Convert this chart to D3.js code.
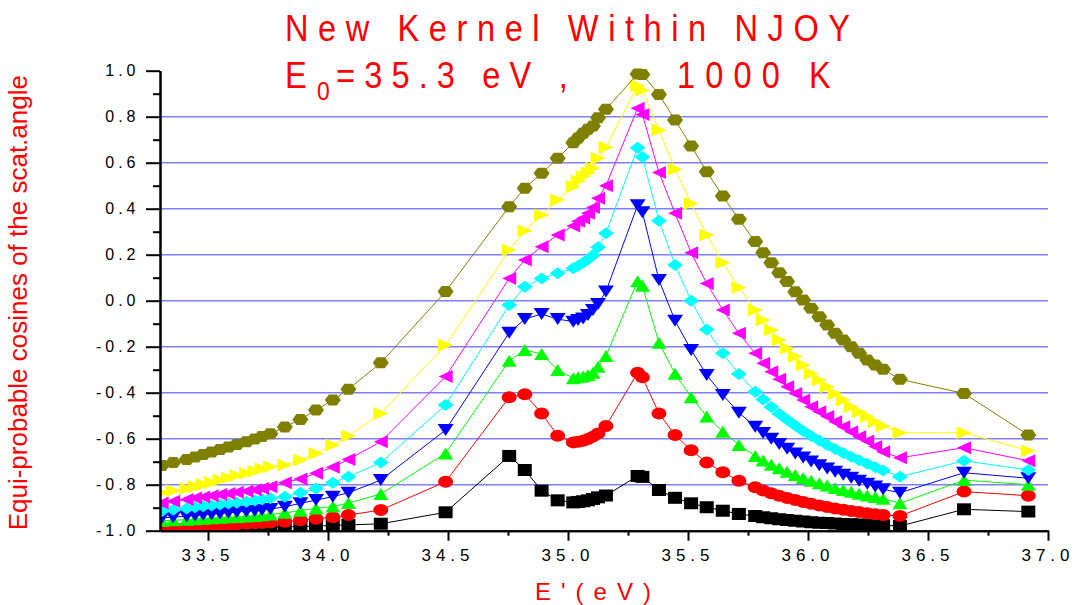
<!DOCTYPE html>
<html>
<meta charset="utf-8"/>
<head>
  <title>New Kernel Within NJOY</title>
  <style>
    body { margin: 0; background: #fff; }
    text { font-family: "Liberation Sans", Arial, sans-serif; }
    .grid line { stroke: #8080ff; stroke-width: 1.6; }
    .axis path, .axis line { stroke: #000; stroke-width: 2; }
  </style>
</head>
<body>
<svg width="1078" height="605"></svg>
<script src="https://d3js.org/d3.v7.min.js"></script>
<script>
// E' grid (eV), shared by all the cosine boundaries
var ePrime = [33.307, 33.355, 33.411, 33.446, 33.48, 33.515, 33.55, 33.585, 33.62, 33.66, 33.695, 33.725, 33.76,
  33.82, 33.885, 33.95, 34.02, 34.085, 34.22, 34.49,
  34.755, 34.82, 34.89, 34.957, 35.022, 35.042, 35.063, 35.083, 35.104, 35.125, 35.158,
  35.29, 35.31,
  35.379, 35.446, 35.513, 35.578, 35.645, 35.712,
  35.78, 35.813, 35.847, 35.88, 35.913, 35.947, 35.98, 36.013, 36.047, 36.08, 36.113, 36.147, 36.18, 36.213, 36.247, 36.28, 36.313,
  36.383, 36.65, 36.918];

// equi-probable cosines, one list per boundary (bottom to top)
var mu1 = [-0.997, -0.996, -0.995, -0.994, -0.993, -0.992, -0.991, -0.99, -0.989, -0.988, -0.987, -0.986, -0.985,
  -0.983, -0.982, -0.98, -0.977, -0.975, -0.97, -0.92,
  -0.675, -0.736, -0.826, -0.868, -0.877, -0.875, -0.872, -0.868, -0.862, -0.855, -0.847,
  -0.762, -0.766,
  -0.823, -0.857, -0.881, -0.898, -0.913, -0.927,
  -0.936, -0.941, -0.946, -0.95, -0.954, -0.957, -0.96, -0.963, -0.965, -0.967, -0.969, -0.971, -0.972, -0.973, -0.974, -0.975, -0.976,
  -0.98, -0.907, -0.917];
var mu2 = [-0.99, -0.987, -0.984, -0.982, -0.98, -0.978, -0.976, -0.974, -0.972, -0.97, -0.968, -0.966, -0.964,
  -0.961, -0.955, -0.948, -0.942, -0.932, -0.91, -0.787,
  -0.42, -0.407, -0.49, -0.587, -0.616, -0.613, -0.609, -0.601, -0.591, -0.577, -0.545,
  -0.313, -0.333,
  -0.49, -0.584, -0.65, -0.704, -0.746, -0.783,
  -0.811, -0.825, -0.837, -0.848, -0.858, -0.867, -0.875, -0.883, -0.89, -0.897, -0.903, -0.909, -0.914, -0.919, -0.924, -0.928, -0.932,
  -0.936, -0.83, -0.848];
var mu3 = [-0.957, -0.955, -0.952, -0.95, -0.948, -0.946, -0.944, -0.942, -0.94, -0.938, -0.936, -0.933, -0.93,
  -0.922, -0.913, -0.903, -0.895, -0.88, -0.84, -0.664,
  -0.261, -0.214, -0.232, -0.301, -0.337, -0.333, -0.33, -0.324, -0.313, -0.287, -0.24,
  0.085, 0.065,
  -0.183, -0.318, -0.42, -0.503, -0.57, -0.627,
  -0.675, -0.695, -0.713, -0.729, -0.744, -0.758, -0.771, -0.783, -0.794, -0.804, -0.814, -0.823, -0.831, -0.839, -0.847, -0.854, -0.861,
  -0.881, -0.78, -0.8];
var mu4 = [-0.945, -0.941, -0.937, -0.934, -0.931, -0.928, -0.925, -0.922, -0.919, -0.916, -0.913, -0.91, -0.906,
  -0.896, -0.881, -0.867, -0.852, -0.835, -0.78, -0.562,
  -0.139, -0.08, -0.058, -0.08, -0.091, -0.084, -0.077, -0.062, -0.04, -0.014, 0.04,
  0.415, 0.385,
  0.09, -0.087, -0.214, -0.323, -0.41, -0.487,
  -0.548, -0.575, -0.6, -0.623, -0.644, -0.664, -0.682, -0.699, -0.715, -0.73, -0.744, -0.757, -0.77, -0.783, -0.796, -0.808, -0.82,
  -0.835, -0.748, -0.772];
var mu5 = [-0.915, -0.909, -0.903, -0.898, -0.894, -0.89, -0.886, -0.882, -0.878, -0.874, -0.869, -0.864, -0.859,
  -0.852, -0.835, -0.816, -0.791, -0.765, -0.704, -0.453,
  -0.019, 0.061, 0.097, 0.119, 0.141, 0.152, 0.165, 0.18, 0.198, 0.232, 0.293,
  0.665, 0.625,
  0.348, 0.155, 0.0, -0.125, -0.229, -0.319,
  -0.396, -0.43, -0.462, -0.491, -0.518, -0.543, -0.566, -0.588, -0.608, -0.627, -0.645, -0.662, -0.678, -0.694, -0.709, -0.724, -0.738,
  -0.765, -0.696, -0.736];
var mu6 = [-0.88, -0.872, -0.864, -0.858, -0.853, -0.848, -0.843, -0.838, -0.833, -0.828, -0.822, -0.816, -0.809,
  -0.791, -0.775, -0.75, -0.724, -0.69, -0.613, -0.33,
  0.097, 0.177, 0.235, 0.286, 0.325, 0.345, 0.36, 0.38, 0.405, 0.445, 0.5,
  0.837, 0.81,
  0.557, 0.38, 0.209, 0.075, -0.04, -0.142,
  -0.229, -0.272, -0.309, -0.342, -0.374, -0.403, -0.432, -0.461, -0.483, -0.504, -0.526, -0.548, -0.57, -0.591, -0.61, -0.634, -0.657,
  -0.683, -0.639, -0.696];
var mu7 = [-0.835, -0.826, -0.816, -0.808, -0.799, -0.79, -0.78, -0.77, -0.76, -0.75, -0.741, -0.731, -0.722,
  -0.714, -0.693, -0.664, -0.627, -0.588, -0.49, -0.193,
  0.22, 0.304, 0.373, 0.438, 0.496, 0.52, 0.54, 0.556, 0.576, 0.619, 0.667,
  0.935, 0.915,
  0.742, 0.571, 0.423, 0.286, 0.165, 0.057,
  -0.04, -0.084, -0.127, -0.171, -0.207, -0.243, -0.28, -0.316, -0.345, -0.374, -0.403, -0.432, -0.461, -0.483, -0.504, -0.526, -0.545,
  -0.574, -0.574, -0.652];
var mu8 = [-0.717, -0.703, -0.69, -0.68, -0.669, -0.658, -0.647, -0.636, -0.625, -0.613, -0.601, -0.59, -0.579,
  -0.549, -0.516, -0.475, -0.432, -0.385, -0.27, 0.04,
  0.409, 0.489, 0.554, 0.619, 0.687, 0.707, 0.728, 0.745, 0.76, 0.795, 0.832,
  0.986, 0.984,
  0.897, 0.786, 0.673, 0.561, 0.455, 0.354,
  0.257, 0.209, 0.165, 0.122, 0.083, 0.039, 0.003, -0.033, -0.07, -0.106, -0.142, -0.171, -0.2, -0.229, -0.258, -0.28, -0.298,
  -0.342, -0.403, -0.584];

var seriesValues = [mu1, mu2, mu3, mu4, mu5, mu6, mu7, mu8];
var seriesColors = ["#000000", "#ff0000", "#00ff00", "#0000ff", "#00ffff", "#ff00ff", "#ffff00", "#808000"];
var seriesShapes = ["square", "circle", "triangleUp", "triangleDown", "diamond", "triangleLeft", "triangleRight", "hexagon"];

var xMajor = [33.5, 34.0, 34.5, 35.0, 35.5, 36.0, 36.5, 37.0];
var xMajorLabels = ["33.5", "34.0", "34.5", "35.0", "35.5", "36.0", "36.5", "37.0"];
var xMinor = [33.75, 34.25, 34.75, 35.25, 35.75, 36.25, 36.75];
var yMajor = [-1.0, -0.8, -0.6, -0.4, -0.2, 0.0, 0.2, 0.4, 0.6, 0.8, 1.0];
var yMajorLabels = ["-1.0", "-0.8", "-0.6", "-0.4", "-0.2", "0.0", "0.2", "0.4", "0.6", "0.8", "1.0"];
var yMinor = [-0.9, -0.7, -0.5, -0.3, -0.1, 0.1, 0.3, 0.5, 0.7, 0.9];
var yGrid = [-0.8, -0.6, -0.4, -0.2, 0.0, 0.2, 0.4, 0.6, 0.8];

var svg = d3.select("svg");
var plotLeft = 160, plotRight = 1048, plotTop = 70.7, plotBottom = 530.7;

var x = d3.scaleLinear().domain([33.3, 37.0]).range([plotLeft, plotRight]);
var y = d3.scaleLinear().domain([-1, 1]).range([plotBottom, plotTop]);

// marker outlines, centred on their bounding box
function markerPath(shape) {
  var w, h;
  switch (shape) {
    case "square": w = 14; h = 12;
      return "M" + (-w/2) + "," + (-h/2) + "h" + w + "v" + h + "h" + (-w) + "Z";
    case "circle":
      return "M-7.5,0a7.5,6 0 1,0 15,0a7.5,6 0 1,0 -15,0Z";
    case "triangleUp": w = 15; h = 12;
      return "M0," + (-h/2) + "L" + (w/2) + "," + (h/2) + "L" + (-w/2) + "," + (h/2) + "Z";
    case "triangleDown": w = 16; h = 12;
      return "M" + (-w/2) + "," + (-h/2) + "L" + (w/2) + "," + (-h/2) + "L0," + (h/2) + "Z";
    case "diamond": w = 16; h = 12;
      return "M0," + (-h/2) + "L" + (w/2) + ",0L0," + (h/2) + "L" + (-w/2) + ",0Z";
    case "triangleLeft": w = 14; h = 13;
      return "M" + (-w/2) + ",0L" + (w/2) + "," + (-h/2) + "L" + (w/2) + "," + (h/2) + "Z";
    case "triangleRight": w = 15; h = 13;
      return "M" + (w/2) + ",0L" + (-w/2) + "," + (-h/2) + "L" + (-w/2) + "," + (h/2) + "Z";
    case "hexagon": w = 16; h = 11;
      return "M" + (-w/2) + ",0L" + (-w/4) + "," + (-h/2) + "L" + (w/4) + "," + (-h/2) + "L" + (w/2) + ",0L" + (w/4) + "," + (h/2) + "L" + (-w/4) + "," + (h/2) + "Z";
  }
}

// grid
svg.append("g").attr("class", "grid")
  .selectAll("line").data(yGrid).enter().append("line")
  .attr("x1", plotLeft).attr("x2", plotRight)
  .attr("y1", d => y(d)).attr("y2", d => y(d));

svg.append("defs").append("clipPath").attr("id", "plotClip")
  .append("rect").attr("x", plotLeft).attr("y", 0).attr("width", plotRight - plotLeft).attr("height", plotBottom);

var plot = svg.append("g").attr("clip-path", "url(#plotClip)");

var line = d3.line().x((d, i) => x(ePrime[i])).y(d => y(d));

seriesValues.forEach(function(vals, s) {
  var g = plot.append("g");
  g.append("path")
    .attr("d", line(vals))
    .attr("fill", "none")
    .attr("stroke", seriesColors[s])
    .attr("stroke-width", 1);
  g.selectAll("path.m").data(vals).enter().append("path")
    .attr("class", "m")
    .attr("d", markerPath(seriesShapes[s]))
    .attr("fill", seriesColors[s])
    .attr("transform", (d, i) => "translate(" + x(ePrime[i]) + "," + y(d) + ")");
});

// axes
svg.append("g").attr("class", "axis")
  .attr("transform", "translate(" + plotLeft + ",0)")
  .call(d3.axisLeft(y).tickValues(yMajor).tickSize(14).tickSizeOuter(0).tickFormat(""));
svg.append("g").attr("class", "axis")
  .attr("transform", "translate(" + plotLeft + ",0)")
  .call(d3.axisLeft(y).tickValues(yMinor).tickSize(7).tickSizeOuter(0).tickFormat(""));
svg.append("g").attr("class", "axis")
  .attr("transform", "translate(0," + plotBottom + ")")
  .call(d3.axisBottom(x).tickValues(xMajor).tickSize(10).tickSizeOuter(0).tickFormat(""));
svg.append("g").attr("class", "axis")
  .attr("transform", "translate(0," + plotBottom + ")")
  .call(d3.axisBottom(x).tickValues(xMinor).tickSize(5).tickSizeOuter(0).tickFormat(""));

svg.append("g").selectAll("text").data(yMajor).enter().append("text")
  .attr("x", 139.5).attr("y", d => y(d)).attr("dy", "0.36em")
  .attr("text-anchor", "end")
  .style("font-size", "16px").style("letter-spacing", "4px")
  .text((d, i) => yMajorLabels[i]);

svg.append("g").selectAll("text").data(xMajor).enter().append("text")
  .attr("x", d => x(d)).attr("y", 561)
  .attr("text-anchor", "middle")
  .style("font-size", "17px").style("letter-spacing", "5px")
  .text((d, i) => xMajorLabels[i]);

// titles, slightly condensed like the original lettering
var red = "#ff0000";
function title(str, tx, ty, size, spacing) {
  return svg.append("text")
    .attr("transform", "translate(" + tx + "," + ty + ") scale(0.88,1)")
    .attr("fill", red).style("font-size", size + "px").style("letter-spacing", spacing + "px")
    .text(str);
}
title("New Kernel Within NJOY", 285, 41, 37, 10.9);
title("E", 285, 88, 37, 0);
title("0", 317, 100, 26, 0);
title("=35.3 eV ,", 336, 88, 37, 10.4);
title("1000 K", 677, 88, 37, 11.5);

svg.append("text").attr("x", 535).attr("y", 600)
  .attr("fill", red).style("font-size", "24px").style("letter-spacing", "10px")
  .text("E'(eV)");

svg.append("text")
  .attr("transform", "translate(27," + ((plotTop + plotBottom) / 2 + 2) + ") rotate(-90)")
  .attr("text-anchor", "middle")
  .attr("fill", red).style("font-size", "26px")
  .text("Equi-probable cosines of the scat.angle");
</script>
</body>
</html>
